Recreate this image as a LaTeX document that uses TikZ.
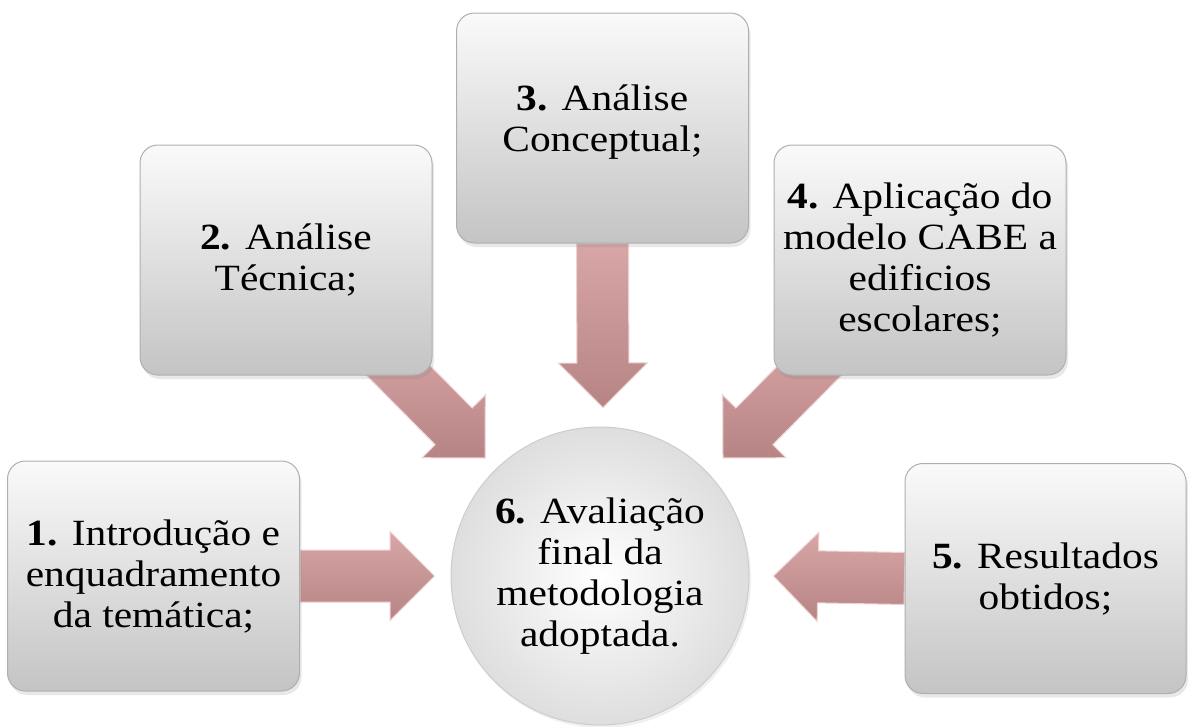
\documentclass[tikz,border=0pt]{standalone}
\usepackage{fontspec}
\setmainfont{Liberation Serif}[FakeStretch=1.12]
\usetikzlibrary{calc,shadows,backgrounds}

\definecolor{boxtop}{RGB}{250,250,250}
\definecolor{boxbot}{RGB}{196,196,196}
\definecolor{boxedge}{RGB}{175,175,175}
\definecolor{ringout}{RGB}{222,222,222}
\definecolor{ringedge}{RGB}{205,205,205}
\definecolor{arrtop}{RGB}{216,166,166}
\definecolor{arrbot}{RGB}{182,132,132}
\definecolor{arredge}{RGB}{238,210,210}

\tikzset{
  stepbox/.style={rectangle, rounded corners=18pt, minimum width=292pt,
    minimum height=230pt, top color=boxtop, bottom color=boxbot,
    draw=boxedge, line width=1pt, align=center,
    drop shadow={opacity=0.18, shadow xshift=2pt, shadow yshift=-4pt},
    font=\fontsize{37}{41}\selectfont},
  goalnode/.style={circle, minimum size=298pt, inner color=white,
    outer color=ringout, draw=ringedge, line width=1pt, align=center,
    drop shadow={opacity=0.12, shadow xshift=2pt, shadow yshift=-3pt},
    font=\fontsize{37}{41}\selectfont},
  blockfill/.style={top color=arrtop, bottom color=arrbot, draw=arredge,
    line width=1pt, line join=miter}
}

% block arrow from #1 (tail) to #2 (tip)
\newcommand\blockarrow[2]{%
  \path let \p1=(#1), \p2=(#2) in
    \pgfextra{%
      \pgfmathsetmacro\arrang{atan2(\y2-\y1,\x2-\x1)}%
      \pgfmathsetmacro\arrlen{veclen(\x2-\x1,\y2-\y1)}%
      \global\let\arrangG\arrang
      \global\let\arrlenG\arrlen};
  \begin{scope}[shift={(#1)}, rotate=\arrangG]
    \path[blockfill] (0pt,-26pt) -- ({\arrlenG pt-44.5pt},-26pt)
      -- ({\arrlenG pt-44.5pt},-44.5pt) -- (\arrlenG pt,0pt)
      -- ({\arrlenG pt-44.5pt},44.5pt) -- ({\arrlenG pt-44.5pt},26pt)
      -- (0pt,26pt) -- cycle;
  \end{scope}}

\begin{document}
\begin{tikzpicture}[x=1pt, y=-1pt]
  \useasboundingbox (0,0) rectangle (1188,726);

  % steps
  \node[stepbox] (b1) at (153.5,576) {\textbf{1.} Introdução e\\enquadramento\\da temática;};
  \node[stepbox] (b2) at (286,260) {\textbf{2.} Análise\\Técnica;};
  \node[stepbox] (b3) at (602.5,128) {\textbf{3.} Análise\\Conceptual;\\[-22pt]};
  \node[stepbox] (b4) at (920,260) {\textbf{4.} Aplicação do\\modelo CABE a\\edificios\\escolares;};
  \node[stepbox, minimum width=281pt] (b5) at (1045.5,578.5) {\textbf{5.} Resultados\\obtidos;};

  % final evaluation
  \node[goalnode] (c6) at (600,576) {\textbf{6.} Avaliação\\final da\\metodologia\\adoptada.};

  % arrow ends
  \coordinate (s2) at ([shift={(-52pt,23pt)}]b2.south east);
  \coordinate (s4) at ([shift={(55pt,24pt)}]b4.south west);
  \coordinate (e1) at ([xshift=-16pt]c6.west);
  \coordinate (e2) at ([shift={(-115pt,118pt)}]c6.center);
  \coordinate (e3) at ([shift={(3pt,19pt)}]c6.north);
  \coordinate (e4) at ([shift={(123pt,118pt)}]c6.center);
  \coordinate (e5) at ([xshift=24pt]c6.east);

  \begin{pgfonlayer}{background}
    \blockarrow{b1.east}{e1}
    \blockarrow{s2}{e2}
    \blockarrow{b3.south}{e3}
    \blockarrow{s4}{e4}
    \blockarrow{b5.west}{e5}
  \end{pgfonlayer}
\end{tikzpicture}
\end{document}
